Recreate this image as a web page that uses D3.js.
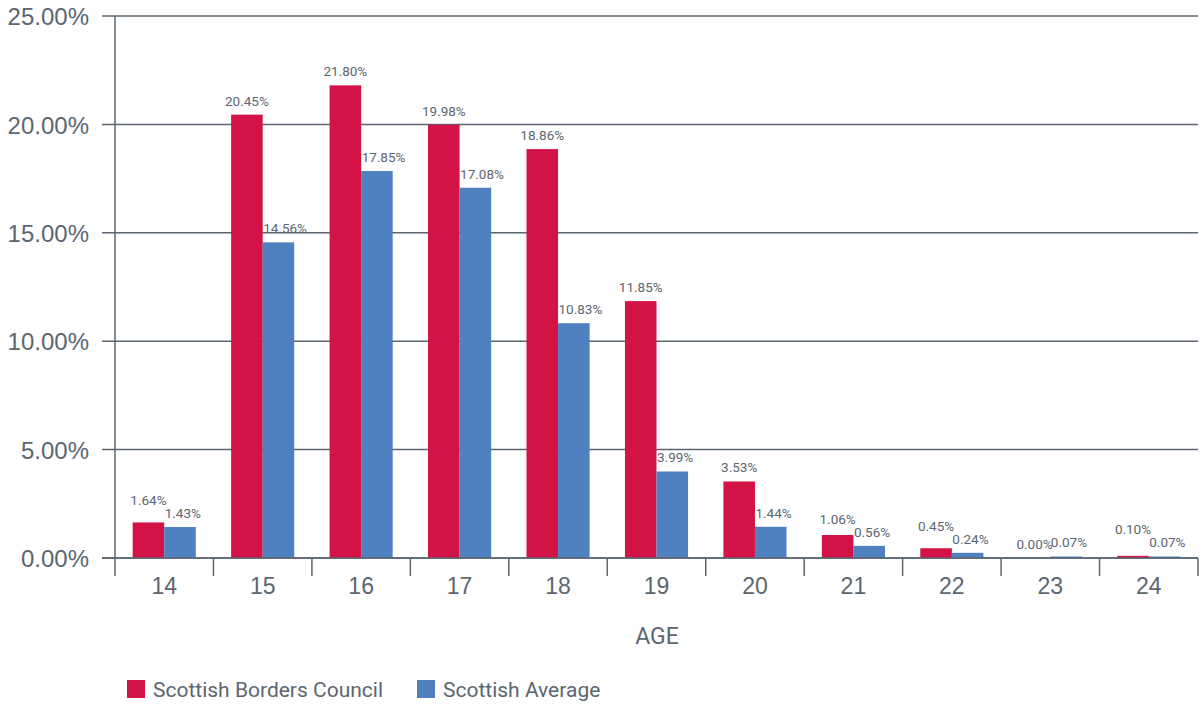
<!DOCTYPE html>
<html>
<head>
<meta charset="utf-8">
<script src="https://cdn.jsdelivr.net/npm/d3@7"></script>
<style>
  html, body { margin: 0; padding: 0; background: #fff; }
  svg { display: block; font-family: Roboto, "Noto Sans", sans-serif; }
</style>
</head>
<body>
<svg id="chart" width="1204" height="704"></svg>
<script>
// Age groups and share of pupils for each series (percent)
const ages = ["14", "15", "16", "17", "18", "19", "20", "21", "22", "23", "24"];
const bordersCouncil = [1.64, 20.45, 21.80, 19.98, 18.86, 11.85, 3.53, 1.06, 0.45, 0.00, 0.10];
const scottishAverage = [1.43, 14.56, 17.85, 17.08, 10.83, 3.99, 1.44, 0.56, 0.24, 0.07, 0.07];
const yTicks = [0, 5, 10, 15, 20, 25];
const seriesNames = ["Scottish Borders Council", "Scottish Average"];
const seriesColors = ["#d31245", "#4f81c1"];

const axisColor = "#5b6670";
const textColor = "#5b6670";

const svg = d3.select("#chart");
const plotLeft = 115, plotRight = 1198, plotTop = 16, plotBottom = 558;

const x = d3.scaleBand().domain(ages).range([plotLeft, plotRight]).paddingInner(0).paddingOuter(0);
const xInner = d3.scaleBand().domain([0, 1]).range([0, x.bandwidth()]).paddingInner(0).paddingOuter(0.56);
const y = d3.scaleLinear().domain([0, 25]).range([plotBottom, plotTop]);

// Horizontal gridlines (drawn first so bars sit on top)
svg.append("g")
  .selectAll("line")
  .data(yTicks)
  .join("line")
  .attr("x1", 102).attr("x2", plotRight)
  .attr("y1", d => y(d)).attr("y2", d => y(d))
  .attr("stroke", axisColor).attr("stroke-width", 1.5);

// Y axis labels
const yAxis = d3.axisLeft(y).tickValues(yTicks).tickFormat(d => d.toFixed(2) + "%").tickSize(0).tickPadding(26);
const gy = svg.append("g").attr("transform", `translate(${plotLeft},0)`).call(yAxis);
gy.select(".domain").remove();
gy.selectAll("text")
  .attr("fill", textColor)
  .style("font-size", "24px")
  .attr("dy", "0.36em");

// Bars
const rows = ages.map((a, i) => ({ age: a, values: [bordersCouncil[i], scottishAverage[i]] }));
const groups = svg.append("g").selectAll("g")
  .data(rows)
  .join("g")
  .attr("transform", d => `translate(${x(d.age)},0)`);

groups.selectAll("rect")
  .data(d => d.values.map((v, k) => ({ v, k })))
  .join("rect")
  .attr("x", d => xInner(d.k))
  .attr("width", xInner.bandwidth())
  .attr("y", d => y(d.v))
  .attr("height", d => y(0) - y(d.v))
  .attr("fill", d => seriesColors[d.k]);

// Baseline and y axis line
svg.append("line")
  .attr("x1", 102).attr("x2", plotRight)
  .attr("y1", y(0)).attr("y2", y(0))
  .attr("stroke", axisColor).attr("stroke-width", 1.5);
svg.append("line")
  .attr("x1", plotLeft).attr("x2", plotLeft)
  .attr("y1", plotTop).attr("y2", 576)
  .attr("stroke", axisColor).attr("stroke-width", 1.5);

// Value labels (on top of all bars). Left-series labels are centred on the bar;
// right-series labels start at the bar's left edge so they clear the neighbour.
// The left label is lifted when it would run into the right one.
const labelLayer = svg.append("g");
rows.forEach(d => {
  const gx0 = x(d.age);
  const fmt = v => v.toFixed(2) + "%";
  const base = d.values.map(v => y(v) - 9);
  if (base[0] > base[1] - 13 && d.values[0] > 0) {
    base[0] = base[1] - 13;
  }
  labelLayer.append("text")
    .attr("x", gx0 + xInner(0) + xInner.bandwidth() / 2)
    .attr("y", base[0])
    .attr("text-anchor", "middle")
    .attr("fill", textColor)
    .style("font-size", "13.5px")
    .text(fmt(d.values[0]));
  labelLayer.append("text")
    .attr("x", gx0 + xInner(1) + 0.5)
    .attr("y", base[1])
    .attr("text-anchor", "start")
    .attr("fill", textColor)
    .style("font-size", "13.5px")
    .text(fmt(d.values[1]));
});

// X axis: tick marks at band boundaries, labels centred in bands
const bounds = ages.map(a => x(a)).concat([plotRight]);
svg.append("g").selectAll("line")
  .data(bounds.slice(1))
  .join("line")
  .attr("x1", d => d).attr("x2", d => d)
  .attr("y1", y(0)).attr("y2", 576)
  .attr("stroke", axisColor).attr("stroke-width", 1.5);

const xAxis = d3.axisBottom(x).tickSize(0).tickPadding(0);
const gxAxis = svg.append("g").attr("transform", `translate(0,${y(0)})`).call(xAxis);
gxAxis.select(".domain").remove();
gxAxis.selectAll("text")
  .attr("y", 36)
  .attr("dy", 0)
  .attr("fill", textColor)
  .style("font-size", "23px");

// Axis title
svg.append("text")
  .attr("x", 657).attr("y", 644)
  .attr("text-anchor", "middle")
  .attr("fill", textColor)
  .style("font-size", "23px")
  .text("AGE");

// Legend
const legendX = [127, 417];
const legend = svg.append("g").selectAll("g")
  .data(seriesNames)
  .join("g")
  .attr("transform", (d, i) => `translate(${legendX[i]},680)`);
legend.append("rect")
  .attr("width", 18).attr("height", 18)
  .attr("fill", (d, i) => seriesColors[i]);
legend.append("text")
  .attr("x", 26).attr("y", 17)
  .attr("fill", textColor)
  .style("font-size", "21px")
  .text(d => d);
</script>
</body>
</html>
